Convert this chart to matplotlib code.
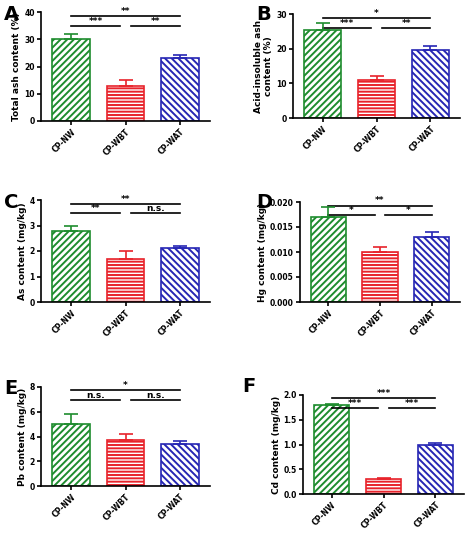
import matplotlib.pyplot as plt
import numpy as np

groups = ["CP-NW", "CP-WBT", "CP-WAT"]
colors = ["#1e8c2e", "#e8232b", "#2626b4"]
hatches = ["/////", "-----", "\\\\\\\\\\"]

letters = ["A", "B", "C", "D", "E", "F"]
ylabels = ["Total ash content (%)", "Acid-insoluble ash\ncontent (%)", "As content (mg/kg)",
           "Hg content (mg/kg)", "Pb content (mg/kg)", "Cd content (mg/kg)"]
means = [[30, 13, 23], [25.5, 11, 19.5], [2.8, 1.7, 2.1],
         [0.017, 0.010, 0.013], [5.0, 3.7, 3.4], [1.8, 0.3, 1.0]]
errs = [[2, 2, 1.3], [2, 1.2, 1.2], [0.2, 0.3, 0.1],
        [0.002, 0.001, 0.001], [0.8, 0.5, 0.2], [0.02, 0.02, 0.04]]
ylims = [40, 30, 4, 0.020, 8, 2.0]
yticks = [[0, 10, 20, 30, 40], [0, 10, 20, 30], [0, 1, 2, 3, 4],
          [0, 0.005, 0.010, 0.015, 0.020], [0, 2, 4, 6, 8], [0, 0.5, 1.0, 1.5, 2.0]]
ytickfmt = ["{:.0f}", "{:.0f}", "{:.0f}", "{:.3f}", "{:.0f}", "{:.1f}"]
# (NW vs WBT, WBT vs WAT, NW vs WAT)
sig = [["***", "**", "**"], ["***", "**", "*"], ["**", "n.s.", "**"],
       ["*", "*", "**"], ["n.s.", "n.s.", "*"], ["***", "***", "***"]]

# axes boxes in pixels: left, top, right, bottom
boxes = [(41, 12, 210, 121), (293, 14, 460, 118), (41, 200, 210, 302),
         (300, 202, 460, 302), (41, 387, 210, 486), (303, 395, 464, 494)]
letter_pos = [(4, 14), (256, 14), (4, 202), (256, 202), (4, 388), (242, 386)]

W, H = 474, 535
fig = plt.figure(figsize=(W / 100, H / 100), dpi=100)
plt.rcParams["hatch.linewidth"] = 1.4

for i in range(6):
    l, t, r, b = boxes[i]
    ax = fig.add_axes([l / W, 1 - b / H, (r - l) / W, (b - t) / H])
    x = np.arange(3)
    for j in range(3):
        ax.bar(x[j], means[i][j], 0.68, facecolor="white", edgecolor=colors[j],
               hatch=hatches[j], linewidth=1.2, zorder=2)
        ax.errorbar(x[j], means[i][j], yerr=[[0], [errs[i][j]]], color=colors[j],
                    capsize=5, elinewidth=1.2, capthick=1.2, zorder=3)
    ax.set_xlim(-0.55, 2.55)
    ax.set_ylim(0, ylims[i])
    ax.set_yticks(yticks[i])
    ax.set_yticklabels([ytickfmt[i].format(v) for v in yticks[i]], fontsize=5.5, fontweight="bold")
    ax.set_xticks(x)
    ax.set_xticklabels(groups, rotation=45, ha="right", rotation_mode="anchor",
                       fontsize=5.5, fontweight="bold")
    ax.set_ylabel(ylabels[i], fontsize=6.5, fontweight="bold", labelpad=2)
    for s in ["top", "right"]:
        ax.spines[s].set_visible(False)
    ax.spines["left"].set_linewidth(1.2)
    ax.spines["bottom"].set_linewidth(1.2)
    ax.tick_params(length=3, width=1.2, pad=1.5)

    top = ylims[i]
    y1, y2 = top * 0.87, top * 0.965
    ax.plot([0, 0.9], [y1, y1], color="black", lw=1.2, clip_on=False)
    ax.plot([1.1, 2], [y1, y1], color="black", lw=1.2, clip_on=False)
    ax.plot([0, 2], [y2, y2], color="black", lw=1.2, clip_on=False)
    for xc, yc, s in [(0.45, y1, sig[i][0]), (1.55, y1, sig[i][1]), (1.0, y2, sig[i][2])]:
        ax.text(xc, yc, s, ha="center", va="bottom", fontsize=6.5, fontweight="bold")
    lx, ly = letter_pos[i]
    fig.text(lx / W, 1 - ly / H, letters[i], fontsize=14, fontweight="bold",
             va="center", ha="left")

fig.savefig("out.png", dpi=100)
